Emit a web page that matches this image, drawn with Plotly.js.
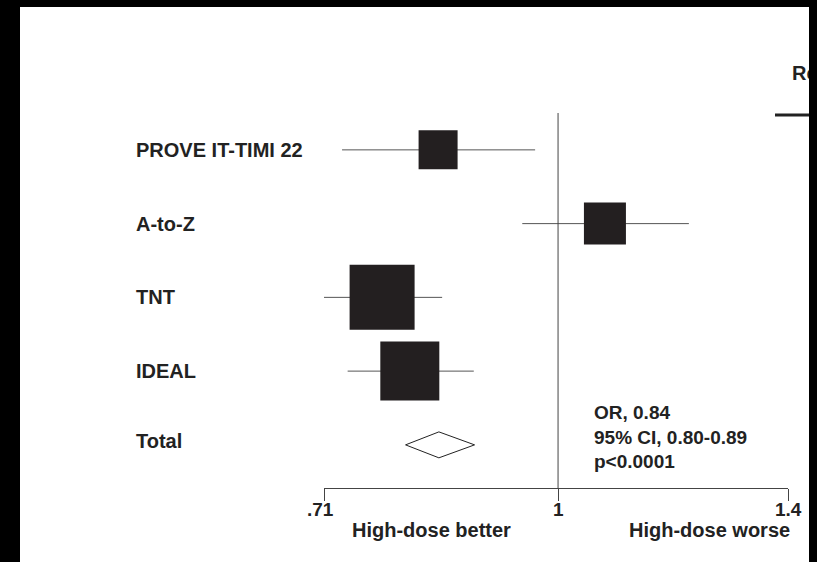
<!DOCTYPE html>
<html>
<head>
<meta charset="utf-8">
<script src="https://cdn.plot.ly/plotly-3.0.1.min.js"></script>
<style>
  html, body { margin: 0; padding: 0; background: #000; width: 817px; height: 562px; overflow: hidden; }
  #frame { position: absolute; left: 20px; top: 7px; width: 789px; height: 555px; background: #fff; overflow: hidden; }
  #chart { position: absolute; left: -20px; top: -7px; width: 817px; height: 562px; }
</style>
</head>
<body>
<div id="frame"><div id="chart"></div></div>
<script>
// ---- data ----
const studies   = ['PROVE IT-TIMI 22', 'A-to-Z', 'TNT', 'IDEAL'];
const orValues  = [0.839, 1.071, 0.773, 0.805];
const ciLow     = [0.729, 0.949, 0.709, 0.735];
const ciHigh    = [0.967, 1.211, 0.844, 0.884];
const boxSizes  = [39, 42, 65, 59];   // study weight, drawn as square size
const totalLabel = 'Total';
const totalOR   = 0.84;
const totalLow  = 0.80;
const totalHigh = 0.885;
const summaryLines = ['OR, 0.84', '95% CI, 0.80-0.89', 'p&lt;0.0001'];
const tickVals  = [0.71, 1, 1.4];
const tickText  = ['.71', '1', '1.4'];

// ---- layout helpers ----
const nRows = studies.length;
const rowY = studies.map((s, i) => nRows - i);   // 4,3,2,1
const totalY = 0;
const diamondHalf = 0.176;
const FONT = '"Liberation Sans", Arial, Helvetica, sans-serif';
const TXT = '#222';

// CI lines (one trace, gaps between studies)
const ciX = [], ciY = [];
studies.forEach((s, i) => { ciX.push(ciLow[i], ciHigh[i], null); ciY.push(rowY[i], rowY[i], null); });

const traces = [
  {
    type: 'scatter', mode: 'lines', x: ciX, y: ciY,
    line: { color: '#555', width: 1 },
    cliponaxis: false, hoverinfo: 'skip', showlegend: false
  },
  {
    type: 'scatter', mode: 'markers',
    x: orValues, y: rowY,
    marker: { symbol: 'square', size: boxSizes, color: '#231f20', opacity: 1, line: { width: 0 } },
    cliponaxis: false, hoverinfo: 'skip', showlegend: false
  },
  {
    type: 'scatter', mode: 'lines',
    x: [totalLow, totalOR, totalHigh, totalOR, totalLow],
    y: [totalY, totalY + diamondHalf, totalY, totalY - diamondHalf, totalY],
    fill: 'toself', fillcolor: '#fff',
    line: { color: '#222', width: 1 },
    cliponaxis: false, hoverinfo: 'skip', showlegend: false
  }
];

const annotations = [];
studies.concat([totalLabel]).forEach((s, i) => {
  annotations.push({
    text: s, xref: 'paper', yref: 'y',
    x: (134 - 324) / 464, y: i < nRows ? rowY[i] : totalY,
    yshift: i < nRows ? 0 : 4,
    xanchor: 'left', yanchor: 'middle', showarrow: false,
    font: { family: FONT, size: 20, color: TXT, weight: 'bold' }
  });
});
// tick labels
tickVals.forEach((v, i) => {
  annotations.push({
    text: tickText[i], xref: 'x', yref: 'paper',
    x: Math.log10(v), y: -0.056, xshift: i === 0 ? -4 : 0,
    xanchor: 'center', yanchor: 'middle', showarrow: false,
    font: { family: FONT, size: 19, color: TXT, weight: 'bold' }
  });
});
annotations.push({
  text: summaryLines.join('<br>'),
  xref: 'paper', yref: 'paper', x: 0.578, y: 0.136,
  xanchor: 'left', yanchor: 'middle', align: 'left', showarrow: false,
  font: { family: FONT, size: 19, color: TXT, weight: 'bold' }
});
annotations.push({
  text: 'High-dose better', xref: 'paper', yref: 'paper', x: 0.232, y: -0.112,
  xanchor: 'center', yanchor: 'middle', showarrow: false,
  font: { family: FONT, size: 20, color: TXT, weight: 'bold' }
});
annotations.push({
  text: 'High-dose worse', xref: 'paper', yref: 'paper', x: 0.830, y: -0.112,
  xanchor: 'center', yanchor: 'middle', showarrow: false,
  font: { family: FONT, size: 20, color: TXT, weight: 'bold' }
});
annotations.push({
  text: 'Relative risk', xref: 'paper', yref: 'paper', x: 1.0043, y: 1.1067,
  xanchor: 'left', yanchor: 'middle', showarrow: false,
  font: { family: FONT, size: 20, color: TXT, weight: 'bold' }
});

const layout = {
  width: 817, height: 562,
  margin: { l: 324, r: 29, t: 113, b: 74, pad: 0 },
  paper_bgcolor: '#fff', plot_bgcolor: '#fff',
  showlegend: false,
  xaxis: {
    type: 'log',
    range: [Math.log10(0.71), Math.log10(1.4)],
    tickvals: tickVals, ticktext: tickText, showticklabels: false,
    ticks: 'outside', ticklen: 12, tickwidth: 1, tickcolor: '#444',
    showline: true, linecolor: '#444', linewidth: 1,
    showgrid: false, zeroline: false,
    fixedrange: true
  },
  yaxis: {
    range: [-0.585, 4.5], visible: false, fixedrange: true
  },
  shapes: [
    { type: 'line', xref: 'x', yref: 'paper', x0: 1, x1: 1, y0: 0, y1: 1,
      line: { color: '#444', width: 1 } },
    { type: 'line', xref: 'paper', yref: 'paper', x0: 0.972, x1: 1.2, y0: 0.9947, y1: 0.9947,
      line: { color: '#222', width: 3 } }
  ],
  annotations: annotations
};

Plotly.newPlot('chart', traces, layout, { staticPlot: true, displayModeBar: false });
</script>
</body>
</html>
